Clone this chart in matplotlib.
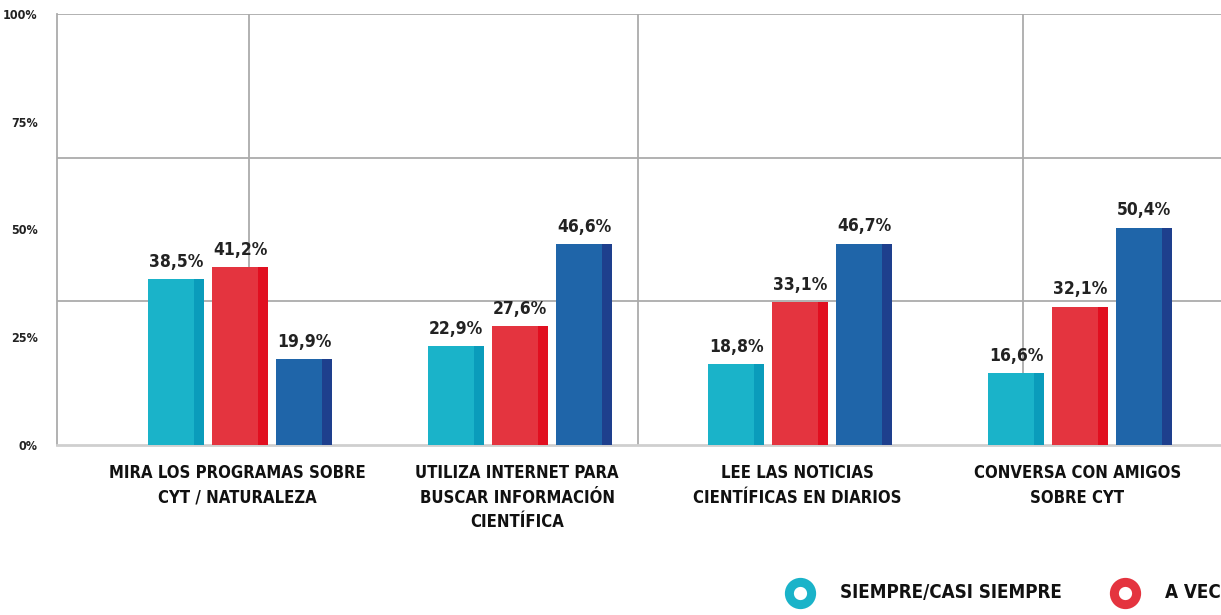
import numpy as np
import matplotlib
matplotlib.use("Agg")
import matplotlib.pyplot as plt

plt.rcParams["font.family"] = ["DejaVu Sans"]
plt.rcParams["font.stretch"] = "condensed"
plt.rcParams["font.weight"] = "bold"

categories = [
    "MIRA LOS PROGRAMAS SOBRE\nCYT / NATURALEZA",
    "UTILIZA INTERNET PARA\nBUSCAR INFORMACIÓN\nCIENTÍFICA",
    "LEE LAS NOTICIAS\nCIENTÍFICAS EN DIARIOS",
    "CONVERSA CON AMIGOS\nSOBRE CYT",
]
series = ["SIEMPRE/CASI SIEMPRE", "A VECES", "NUNCA"]
siempre = [38.5, 22.9, 18.8, 16.6]
a_veces = [41.2, 27.6, 33.1, 32.1]
nunca = [19.9, 46.6, 46.7, 50.4]
values = [siempre, a_veces, nunca]
yticks = [0, 25, 50, 75, 100]

front = ["#1ab3c9", "#e4343f", "#1f65a9"]
side = ["#0a9cbb", "#e10f20", "#1e3f8d"]

fig = plt.figure(figsize=(12.21, 6.15), dpi=100)
ax = fig.add_axes([57 / 1221, 170 / 615, (1260 - 57) / 1221, 431 / 615])

x = np.arange(len(categories))
w = 0.2
offs = [-0.2286, 0.0, 0.2286]
for vals, off, fc, sc in zip(values, offs, front, side):
    ax.bar(x + off, vals, width=w, color=fc, zorder=3)
    # darker right strip for the pseudo-3D look
    ax.bar(x + off + w / 2 - 0.018, vals, width=0.036, color=sc, zorder=4)
    for xi, v in zip(x + off, vals):
        ax.annotate(f"{v:.1f}%".replace(".", ","), (xi, v),
                    xytext=(0, 6), textcoords="offset points",
                    ha="center", va="bottom", fontsize=12.5, color="#222")

ax.set_xlim(-0.654, (1260 - 240) / 280)
ax.set_ylim(0, 100)

# background grid (decorative, thirds)
for gy in [100 / 3, 200 / 3, 100]:
    ax.axhline(gy, color="#ababab", lw=1.3, zorder=1)
for gx in [0.032, 1.421, 2.796]:
    ax.axvline(gx, color="#ababab", lw=1.3, zorder=1)

for s in ["top", "right"]:
    ax.spines[s].set_visible(False)
ax.spines["left"].set_color("#ababab")
ax.spines["left"].set_linewidth(1.3)
ax.spines["bottom"].set_color("#cfcfcf")
ax.spines["bottom"].set_linewidth(2)

ax.set_yticks(yticks)
ax.set_yticklabels([f"{t}%" for t in yticks], fontsize=9, color="#222")
ax.set_xticks(x - 0.01)
ax.set_xticklabels(categories, fontsize=12, color="#111", linespacing=1.45)
ax.tick_params(axis="both", length=0)
ax.tick_params(axis="y", pad=14)
ax.tick_params(axis="x", pad=14)

# legend along the bottom, running off the right edge
leg_x = [800, 1125, 1380]
for lx, name, fc in zip(leg_x, series, front):
    fig.lines.append(plt.Line2D([lx / 1221], [1 - 593 / 615], transform=fig.transFigure,
                                marker="o", markersize=16, markerfacecolor="white",
                                markeredgecolor=fc, markeredgewidth=6.5, linestyle="none"))
    fig.text((lx + 40) / 1221, 1 - 593 / 615, name, fontsize=13.5, color="#111",
             ha="left", va="center")

fig.savefig("out.png", dpi=100)
